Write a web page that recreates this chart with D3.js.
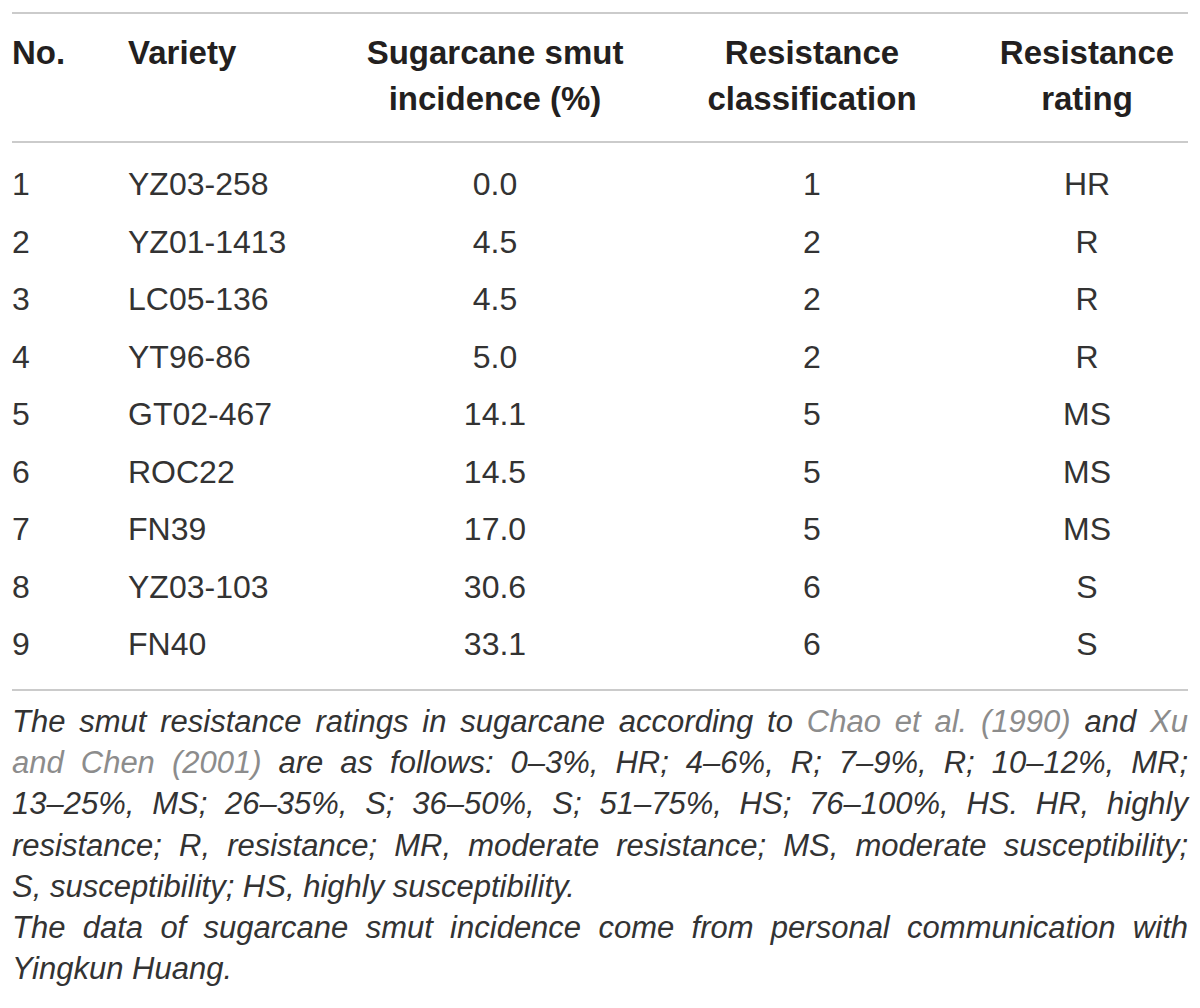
<!DOCTYPE html>
<html>
<head>
<meta charset="utf-8">
<script src="https://cdn.jsdelivr.net/npm/d3@7"></script>
<style>
  body { margin: 0; background: #fff; }
  svg text { font-family: "Liberation Sans", Arial, sans-serif; }
</style>
</head>
<body>
<div id="chart"></div>
<script>
const width = 1200;
const height = 1008;

// Table contents
const headers = [
  ["No."],
  ["Variety"],
  ["Sugarcane smut", "incidence (%)"],
  ["Resistance", "classification"],
  ["Resistance", "rating"]
];
const numbers = [1, 2, 3, 4, 5, 6, 7, 8, 9];
const varieties = ["YZ03-258", "YZ01-1413", "LC05-136", "YT96-86", "GT02-467", "ROC22", "FN39", "YZ03-103", "FN40"];
const incidence = [0.0, 4.5, 4.5, 5.0, 14.1, 14.5, 17.0, 30.6, 33.1];
const classification = [1, 2, 2, 2, 5, 5, 5, 6, 6];
const rating = ["HR", "R", "R", "R", "MS", "MS", "MS", "S", "S"];

// Footnote lines as [text, isCitation] pieces; second item = justify line
const footLines = [
  [[["The smut resistance ratings in sugarcane according to ", 0], ["Chao et al. (1990)", 1], [" and ", 0], ["Xu", 1]], true],
  [[["and Chen (2001)", 1], [" are as follows: 0–3%, HR; 4–6%, R; 7–9%, R; 10–12%, MR;", 0]], true],
  [[["13–25%, MS; 26–35%, S; 36–50%, S; 51–75%, HS; 76–100%, HS. HR, highly", 0]], true],
  [[["resistance; R, resistance; MR, moderate resistance; MS, moderate susceptibility;", 0]], true],
  [[["S, susceptibility; HS, highly susceptibility.", 0]], false],
  [[["The data of sugarcane smut incidence come from personal communication with", 0]], true],
  [[["Yingkun Huang.", 0]], false]
];

const left = 12, right = 1188;
const ink = "#231f20";
const body = "#333333";
const rule = "#cbcbcb";

const svg = d3.select("#chart")
  .append("svg")
  .attr("width", width)
  .attr("height", height);

// column positions and alignment
const colX = [12, 128, 495, 812, 1087];
const colAnchor = ["start", "start", "middle", "middle", "middle"];

// rows: baselines
const y = d3.scalePoint()
  .domain(d3.range(numbers.length))
  .range([195, 655]);

// horizontal rules
[13, 142, 690].forEach(ry => {
  svg.append("line")
    .attr("x1", left).attr("x2", right)
    .attr("y1", ry).attr("y2", ry)
    .attr("stroke", rule)
    .attr("stroke-width", 2);
});

// header
headers.forEach((lines, c) => {
  svg.append("g")
    .selectAll("text")
    .data(lines)
    .join("text")
    .attr("x", colX[c])
    .attr("y", (d, i) => 64 + i * 46)
    .attr("text-anchor", colAnchor[c])
    .attr("font-size", 33)
    .attr("font-weight", "bold")
    .attr("fill", ink)
    .text(d => d);
});

// body cells
const rows = numbers.map((n, i) => [
  String(n),
  varieties[i],
  d3.format(".1f")(incidence[i]),
  String(classification[i]),
  rating[i]
]);

svg.append("g")
  .selectAll("g")
  .data(rows)
  .join("g")
  .attr("transform", (d, i) => `translate(0,${y(i)})`)
  .selectAll("text")
  .data(d => d)
  .join("text")
  .attr("x", (d, c) => colX[c])
  .attr("text-anchor", (d, c) => colAnchor[c])
  .attr("font-size", 32)
  .attr("fill", body)
  .text(d => d);

// footnote, justified line by line
const footY = d3.scaleLinear().domain([0, 1]).range([732, 773.2]);

footLines.forEach(([pieces, justify], i) => {
  const t = svg.append("text")
    .attr("x", left)
    .attr("y", footY(i))
    .attr("font-size", 31)
    .attr("font-style", "italic")
    .attr("fill", body)
    .attr("xml:space", "preserve");
  t.selectAll("tspan")
    .data(pieces)
    .join("tspan")
    .attr("fill", d => d[1] ? "#8c8c8c" : body)
    .text(d => d[0]);
  if (justify) {
    const natural = t.node().getComputedTextLength();
    const spaces = pieces.map(p => p[0]).join("").split(" ").length - 1;
    t.attr("word-spacing", (right - left - natural) / spaces);
  }
});
</script>
</body>
</html>
